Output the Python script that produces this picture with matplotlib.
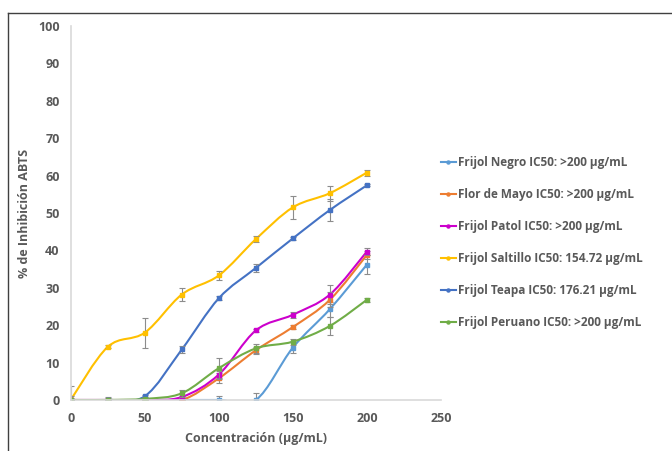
import matplotlib
matplotlib.use('Agg')
import matplotlib.pyplot as plt
from matplotlib.path import Path
from matplotlib.patches import PathPatch
from matplotlib.lines import Line2D
import numpy as np

plt.rcParams['font.family'] = ['Open Sans', 'DejaVu Sans']
plt.rcParams['font.weight'] = 'bold'

conc = [0, 25, 50, 75, 100, 125, 150, 175, 200]

negro = [0, 0, 0, 0, 0, 0, 14.0, 24.3, 36.2]
negro_err = [0, 0, 0, 0, 1.0, 2.0, 1.5, 2.0, 2.5]
mayo = [0, 0, 0, 0, 5.8, 13.3, 19.5, 26.8, 38.8]
mayo_err = [0, 0, 0, 0, 1.3, 1.0, 0.5, 2.0, 1.0]
patol = [0, 0, 0, 0.8, 6.8, 18.6, 22.8, 28.2, 39.7]
patol_err = [0, 0, 0, 0.3, 1.0, 0.5, 0.8, 2.5, 1.0]
saltillo = [0, 14.2, 18.0, 28.2, 33.3, 43.0, 51.5, 55.3, 60.8]
saltillo_err = [3.7, 0.4, 4.0, 1.8, 1.2, 0.8, 3.0, 2.0, 0.8]
teapa = [0, 0, 1.0, 13.5, 27.2, 35.3, 43.2, 50.8, 57.4]
teapa_err = [0, 0.8, 0.3, 1.0, 0.5, 1.0, 0.5, 3.0, 0.3]
peruano = [0, 0, 0.3, 1.8, 8.5, 13.8, 15.6, 19.8, 26.8]
peruano_err = [1.2, 0.3, 0.2, 1.0, 2.8, 1.3, 0.8, 2.5, 0.5]

labels = ['Frijol Negro IC50: >200 µg/mL',
          'Flor de Mayo IC50: >200 µg/mL',
          'Frijol Patol IC50: >200 µg/mL',
          'Frijol Saltillo IC50: 154.72 µg/mL',
          'Frijol Teapa IC50: 176.21 µg/mL',
          'Frijol Peruano IC50: >200 µg/mL']
colors = ['#5B9BD5', '#ED7D31', '#CC00CC', '#FFC000', '#4472C4', '#70AD47']
series = [negro, mayo, patol, saltillo, teapa, peruano]
errors = [negro_err, mayo_err, patol_err, saltillo_err, teapa_err, peruano_err]


def smooth_path(x, y):
    # Excel-like smoothed line (Catmull-Rom as cubic Bezier)
    p = np.column_stack([x, y]).astype(float)
    n = len(p)
    verts = [p[0]]
    codes = [Path.MOVETO]
    for i in range(n - 1):
        p0 = p[i - 1] if i > 0 else p[i]
        p3 = p[i + 2] if i + 2 < n else p[i + 1]
        c1 = p[i] + (p[i + 1] - p0) / 6
        c2 = p[i + 1] - (p3 - p[i]) / 6
        verts += [c1, c2, p[i + 1]]
        codes += [Path.CURVE4] * 3
    return Path(verts, codes)


fig = plt.figure(figsize=(6.72, 4.51), dpi=100)
ax = fig.add_axes([0.1052, 0.1131, 0.551, 0.8293])

handles = []
for y, e, c, lab in zip(series, errors, colors, labels):
    ax.add_patch(PathPatch(smooth_path(conc, y), fill=False, edgecolor=c, lw=1.5))
    ax.errorbar(conc, y, yerr=e, fmt='none', ecolor='#8C8C8C', elinewidth=0.8,
                capsize=2, capthick=0.8)
    ax.plot(conc, y, ls='none', marker='s', ms=2.8, color=c)
    handles.append(Line2D([], [], color=c, lw=1.5, marker='o', ms=2.2))

ax.set_xlim(0, 250)
ax.set_ylim(0, 100)
ax.set_xticks(range(0, 251, 50))
ax.set_yticks(range(0, 101, 10))
for s in ['top', 'right']:
    ax.spines[s].set_visible(False)
ax.spines['left'].set_color('#D9D9D9')
ax.spines['bottom'].set_color('#D9D9D9')
ax.spines['left'].set_linewidth(1.2)
ax.spines['bottom'].set_linewidth(1.2)
ax.tick_params(length=0, labelsize=9, labelcolor='#595959')
ax.tick_params(axis='y', pad=8)
ax.tick_params(axis='x', pad=9)
for t in ax.get_xticklabels() + ax.get_yticklabels():
    t.set_fontweight('bold')
ax.set_xlabel('Concentración (µg/mL)', fontsize=9, fontweight='bold', color='#595959', labelpad=5)
ax.set_ylabel('% de Inhibición ABTS', fontsize=9, fontweight='bold', color='#595959', labelpad=5)

fig.legend(handles, labels, loc='upper left', bbox_to_anchor=(0.640, 0.677),
           frameon=False, fontsize=8.5, labelcolor='#595959', handlelength=1.3,
           handletextpad=0.2, labelspacing=1.6)

# chart area border
fig.add_artist(Line2D([8 / 672, 1], [1 - 13 / 451, 1 - 13 / 451], color='#404040', lw=1))
fig.add_artist(Line2D([8 / 672, 8 / 672], [0, 1 - 13 / 451], color='#404040', lw=1))

fig.savefig('out.png', dpi=100)
